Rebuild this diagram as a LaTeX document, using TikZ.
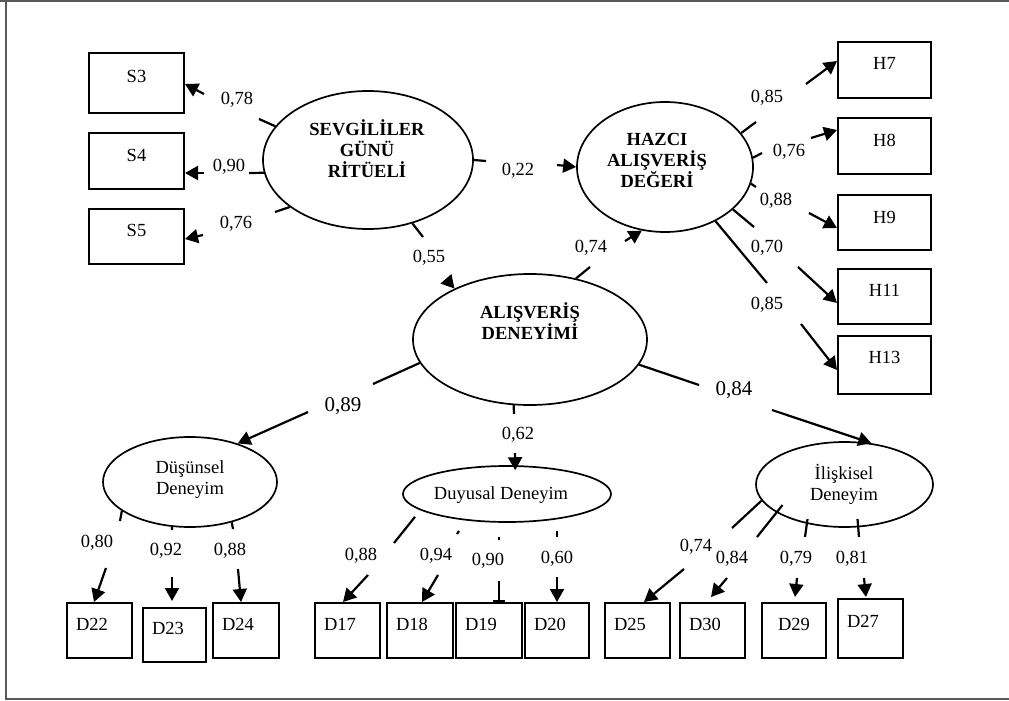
\documentclass[tikz,border=0pt]{standalone}
\usepackage{fontspec}
\setmainfont{Liberation Serif}
\usetikzlibrary{shapes.geometric,arrows.meta}
\begin{document}
\begin{tikzpicture}[x=1pt,y=-1pt,
  every node/.style={font=\fontsize{18.5}{21}\selectfont, inner sep=0pt},
  frameline/.style={draw=black!65, line width=1.2pt},
  ind/.style 2 args={draw, line width=2pt, inner sep=0pt, text height=#1, text depth=#2},
  dbox/.style 2 args={ind={#1}{#2}, text width=47pt, inner xsep=9pt, align=left},
  lat/.style={draw, ellipse, line width=1.7pt, inner sep=0pt},
  lattext/.style={align=center, font=\fontsize{18.5}{21}\selectfont\bfseries},
  bigcoef/.style={font=\fontsize{21}{24}\selectfont},
  link/.style={line width=2.2pt},
  arr/.style={link, -{Triangle[length=13pt,width=14pt]}},
  tee/.style={link, -{Bar[width=12pt]}},
]
\useasboundingbox (0,0) rectangle (1009,701);

% outer frame (top, left and bottom rules)
\draw[frameline] (0,1) -- (1009,1);
\draw[frameline] (6,1) -- (6,699) -- (1009,699);

% ---------- observed indicators ----------
\node[ind={29pt}{31pt}, minimum width=95pt] (S3) at (136.5,83) {S3};
\node[ind={28pt}{28pt}, minimum width=95pt] (S4) at (136.5,161) {S4};
\node[ind={27pt}{28pt}, minimum width=95pt] (S5) at (136.5,236.5) {S5};

\node[ind={28pt}{28pt}, minimum width=93pt] (H7) at (884.5,70) {H7};
\node[ind={28.5pt}{27.5pt}, minimum width=93pt] (H8) at (884.5,146) {H8};
\node[ind={28.5pt}{26.5pt}, minimum width=93pt] (H9) at (884.5,222.5) {H9};
\node[ind={27.5pt}{27.5pt}, minimum width=93pt] (H11) at (884.5,296.5) {H11};
\node[ind={27.5pt}{30.5pt}, minimum width=93pt] (H13) at (884.5,365) {H13};

\node[dbox={27.5pt}{27.5pt}] (D22) at (99.5,630.5) {D22};
\node[dbox={26.5pt}{27.5pt}, text width=45pt] (D23) at (174.5,635) {D23};
\node[dbox={27.5pt}{27.5pt}, text width=48pt] (D24) at (246,630.5) {D24};
\node[dbox={27.5pt}{27.5pt}] (D17) at (347.5,630.5) {D17};
\node[dbox={27.5pt}{27.5pt}, text width=48pt] (D18) at (420,630.5) {D18};
\node[dbox={27.5pt}{27.5pt}, text width=48pt] (D19) at (489,630.5) {D19};
\node[dbox={27.5pt}{27.5pt}, text width=46pt] (D20) at (557,630.5) {D20};
\node[dbox={27.5pt}{27.5pt}] (D25) at (637.5,630.5) {D25};
\node[dbox={27.5pt}{27.5pt}] (D30) at (712.5,630.5) {D30};
\node[dbox={27.5pt}{27.5pt}, text width=46pt, align=center] (D29) at (794,630.5) {D29};
\node[dbox={28.5pt}{30.5pt}] (D27) at (870.5,628.5) {D27};

% ---------- latent constructs ----------
\node[lat, minimum width=210pt, minimum height=138pt] (SEV) at (368,160) {};
\node[lat, minimum width=176pt, minimum height=130pt] (HAZ) at (665,167) {};
\node[lat, minimum width=234pt, minimum height=131pt] (ALI) at (530,339.5) {};
\node[lat, minimum width=174pt, minimum height=90pt] (DUS) at (190,482) {};
\node[lat, minimum width=208pt, minimum height=56pt] (DUY) at (507,494) {};
\node[lat, minimum width=177pt, minimum height=85pt] (ILI) at (844.5,484.5) {};

\node[lattext] (SEVt) at (367,149) {SEVGİLİLER\\GÜNÜ\\RİTÜELİ};
\node[lattext] (HAZt) at (657,160) {HAZCI\\ALIŞVERİŞ\\DEĞERİ};
\node[lattext] (ALIt) at (530,321.5) {ALIŞVERİŞ\\DENEYİMİ};
\node[align=center] (DUSt) at (190,480) {Düşünsel\\Deneyim};
\node (DUYt) at (501,495) {Duyusal Deneyim};
\node[align=center] (ILIt) at (844,484) {İlişkisel\\Deneyim};

% ---------- break points of the paths ----------
\coordinate (ts3) at (259,119);  \coordinate (hs3) at (204,94);
\coordinate (ts4) at (249,173);  \coordinate (hs4) at (204,173);
\coordinate (ts5) at (275,212);  \coordinate (hs5) at (203,235);
\coordinate (t22) at (486,161);  \coordinate (h22) at (557,165);
\coordinate (t55) at (423,237);  \coordinate (h55) at (447,280);
\coordinate (t74) at (590,267);  \coordinate (h74) at (625,241);
\coordinate (th7) at (756,122);  \coordinate (hh7) at (806,84);
\coordinate (th8) at (762,153);  \coordinate (hh8) at (811,138);
\coordinate (th9) at (756,187);  \coordinate (hh9) at (809,213);
\coordinate (th11) at (754,227); \coordinate (hh11) at (798,267);
\coordinate (th13) at (767,283); \coordinate (hh13) at (801,324);
\coordinate (t89) at (373,384);  \coordinate (h89) at (308,412);
\coordinate (t62) at (514,414);  \coordinate (h62) at (515,453);
\coordinate (t84) at (699,385);  \coordinate (h84) at (772,410);
\coordinate (td22) at (120,521); \coordinate (hd22) at (106,568);
\coordinate (td23) at (172,530); \coordinate (hd23) at (172,577);
\coordinate (td24) at (233,529); \coordinate (hd24) at (238,569);
\coordinate (td17) at (394,543); \coordinate (hd17) at (368,575);
\coordinate (td18) at (457,534); \coordinate (hd18) at (438,575);
\coordinate (td19) at (499,540); \coordinate (hd19) at (499,581);
\coordinate (td20) at (557,537); \coordinate (hd20) at (557,577);
\coordinate (td25) at (732,528); \coordinate (hd25) at (684,569);
\coordinate (td30) at (757,537); \coordinate (hd30) at (727,578);
\coordinate (td29) at (805,537); \coordinate (hd29) at (797,578);
\coordinate (td27) at (859,537); \coordinate (hd27) at (864,578);

% ---------- paths ----------
\draw[link] (SEV.160.5) -- (ts3);  \draw[arr] (hs3) -- ([yshift=-1pt]S3.east);
\draw[link] (SEV.187.1) -- (ts4);  \draw[arr] (hs4) -- ([yshift=-12pt]S4.east);
\draw[link] (SEV.211.1) -- (ts5);  \draw[arr] (hs5) -- ([yshift=-2.5pt]S5.east);
\draw[link] (SEV.0.5) -- (t22);    \draw[arr] (h22) -- (HAZ.west);
\draw[link] (SEV.305.5) -- (t55);  \draw[arr] (h55) -- (ALI.146.7);
\draw[link] (ALI.53.8) -- (t74);   \draw[arr] (h74) -- (HAZ.250.2);

\draw[link] (HAZ.24.6) -- (th7);   \draw[arr] (hh7) -- ([yshift=9pt]H7.west);
\draw[link] (HAZ.6.9) -- (th8);    \draw[arr] (hh8) -- ([yshift=16pt]H8.west);
\draw[link] (HAZ.349.8) -- (th9);  \draw[arr] (hh9) -- ([yshift=-5.5pt]H9.west);
\draw[link] (HAZ.328) -- (th11);   \draw[arr] (hh11) -- ([yshift=-6.5pt]H11.west);
\draw[link] (HAZ.313.8) -- (th13); \draw[arr] (hh13) -- ([yshift=-5pt]H13.west);

\draw[link] (ALI.192.8) -- (t89);  \draw[arr] (h89) -- (DUS.39.4);
\draw[link] (ALI.256.3) -- (t62);  \draw[arr] (h62) -- ([yshift=-5pt]DUY.74);
\draw[link] (ALI.347) -- (t84);    \draw[arr] (h84) -- (ILI.57.2);

\draw[link] (DUS.203.4) -- (td22); \draw[arr] (hd22) -- ([xshift=-5.5pt]D22.north);
\draw[link] (DUS.248.2) -- (td23); \draw[arr] (hd23) -- ([xshift=-2.5pt,yshift=6pt]D23.north);
\draw[link] (DUS.316.8) -- (td24); \draw[arr] (hd24) -- ([xshift=-5pt]D24.north);

\draw[link] ([shift={(-92,-6)}]DUY.south) -- (td17); \draw[arr] (hd17) -- ([xshift=-4.5pt]D17.north);
\draw[link] ([shift={(-48,8)}]DUY.south) -- (td18);  \draw[arr] (hd18) -- ([xshift=2pt]D18.north);
\draw[link] ([shift={(-8,14)}]DUY.south) -- (td19);  \draw[tee] (hd19) -- ([xshift=10pt]D19.north);
\draw[link] ([shift={(50,8)}]DUY.south) -- (td20);   \draw[arr] (hd20) -- (D20.north);

\draw[link] (ILI.191.9) -- (td25); \draw[arr] (hd25) -- ([xshift=6.5pt]D25.north);
\draw[link] ([shift={(-62,20.5)}]ILI.center) -- (td30); \draw[arr] (hd30) -- ([xshift=-1.5pt,yshift=5pt]D30.north);
\draw[link] ([shift={(-37,34.5)}]ILI.center) -- (td29); \draw[arr] (hd29) -- ([xshift=1pt,yshift=5pt]D29.north);
\draw[link] ([shift={(13,34.5)}]ILI.center) -- (td27);  \draw[arr] (hd27) -- ([xshift=-4.5pt,yshift=1pt]D27.north);

% ---------- coefficients ----------
\node (c78) at (237,100) {0,78};
\node (c90) at (229,167) {0,90};
\node (c76s) at (236,224) {0,76};
\node (c22) at (518,171) {0,22};
\node (c55) at (429,258) {0,55};
\node (c74h) at (591,248) {0,74};
\node (c85a) at (767,98) {0,85};
\node (c76h) at (789,152) {0,76};
\node (c88h) at (776,201) {0,88};
\node (c70) at (767,248) {0,70};
\node (c85b) at (767,305) {0,85};
\node[bigcoef] (c89) at (343,406) {0,89};
\node (c62) at (518,435) {0,62};
\node[bigcoef] (c84i) at (734,390) {0,84};
\node (c80) at (97,543) {0,80};
\node (c92) at (166,551) {0,92};
\node (c88a) at (230,551) {0,88};
\node (c88b) at (361,556) {0,88};
\node (c94) at (436,556) {0,94};
\node (c90d) at (488,561) {0,90};
\node (c60) at (557,559) {0,60};
\node (c74d) at (696,547) {0,74};
\node (c84d) at (732,559) {0,84};
\node (c79) at (796,559) {0,79};
\node (c81) at (852,559) {0,81};
\end{tikzpicture}
\end{document}
